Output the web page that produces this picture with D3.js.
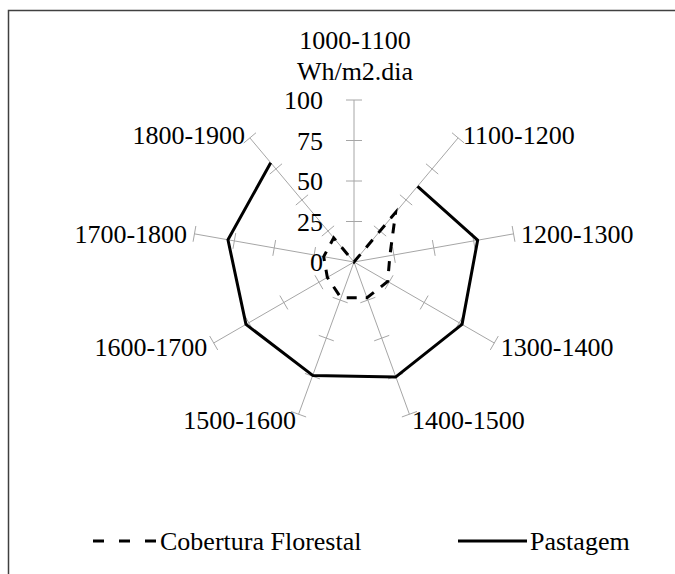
<!DOCTYPE html>
<html>
<head>
<meta charset="utf-8">
<script src="https://cdn.jsdelivr.net/npm/d3@7"></script>
<style>
  body { margin: 0; background: #fff; }
</style>
</head>
<body>
<svg id="chart" width="675" height="574"></svg>
<script>
// ---DATA---//
var categories = ["1000-1100", "1100-1200", "1200-1300", "1300-1400", "1400-1500",
                  "1500-1600", "1600-1700", "1700-1800", "1800-1900"];
var unitLabel = "Wh/m2.dia";
var coberturaValues = [0, 40, 22.5, 24, 23.5, 23.5, 19, 19, 19.5];
var pastagemValues = [null, 61, 77.5, 77, 75.5, 74.5, 77, 79, 80];
var tickValues = [0, 25, 50, 75, 100];
var seriesNames = ["Cobertura Florestal", "Pastagem"];

// ---LAYOUT---//
var cx = 354, cy = 262;
var fontFamily = "'Liberation Serif', 'Times New Roman', Tinos, 'DejaVu Serif', serif";
var svg = d3.select("#chart")
  .attr("font-family", fontFamily)
  .attr("font-size", 26);

// outer frame (runs off the right / bottom edge)
svg.append("rect")
  .attr("x", 8.5).attr("y", 10.5)
  .attr("width", 700).attr("height", 600)
  .attr("fill", "none").attr("stroke", "#404040").attr("stroke-width", 1.5);

var g = svg.append("g").attr("transform", "translate(" + cx + "," + cy + ")");

var r = d3.scaleLinear().domain([0, 100]).range([0, 162]);
var angle = d3.scalePoint().domain(categories).range([0, 2 * Math.PI * 8 / 9]);

function px(cat, v) { return Math.sin(angle(cat)) * r(v); }
function py(cat, v) { return -Math.cos(angle(cat)) * r(v); }

// ---SPOKES + TICKS---//
var spokes = g.selectAll(".spoke").data(categories).enter().append("g").attr("class", "spoke");

spokes.append("line")
  .attr("x1", 0).attr("y1", 0)
  .attr("x2", function(d) { return px(d, 100); })
  .attr("y2", function(d) { return py(d, 100); })
  .attr("stroke", "#a6a6a6").attr("stroke-width", 1);

spokes.each(function(cat) {
  var a = angle(cat);
  var nx = Math.cos(a), ny = Math.sin(a); // perpendicular
  d3.select(this).selectAll(".tick").data(tickValues.slice(1)).enter().append("line")
    .attr("x1", function(v) { return px(cat, v) - nx * 8; })
    .attr("y1", function(v) { return py(cat, v) - ny * 8; })
    .attr("x2", function(v) { return px(cat, v) + nx * 8; })
    .attr("y2", function(v) { return py(cat, v) + ny * 8; })
    .attr("stroke", "#a6a6a6").attr("stroke-width", 1);
});

// value labels on the first spoke
g.selectAll(".tickLabel").data(tickValues).enter().append("text")
  .attr("x", -31)
  .attr("y", function(v) { return -r(v); })
  .attr("dy", "0.35em")
  .attr("text-anchor", "end")
  .text(function(v) { return v; });

// ---SERIES---//
var radial = d3.lineRadial()
  .angle(function(d, i) { return angle(categories[i]); })
  .radius(function(d) { return r(d); })
  .defined(function(d) { return d != null; });

g.append("path")
  .datum(coberturaValues)
  .attr("d", radial.curve(d3.curveLinearClosed))
  .attr("fill", "none").attr("stroke", "#000").attr("stroke-width", 3)
  .attr("stroke-dasharray", "10,9");

g.append("path")
  .datum(pastagemValues)
  .attr("d", radial.curve(d3.curveLinear))
  .attr("fill", "none").attr("stroke", "#000").attr("stroke-width", 3)
  .attr("stroke-linejoin", "round");

// ---CATEGORY LABELS---//
g.selectAll(".catLabel").data(categories.slice(1)).enter().append("text")
  .attr("x", function(d) { return px(d, 100) + 7.5 * Math.sin(angle(d)); })
  .attr("y", function(d) { return py(d, 100) - 5 * Math.cos(angle(d)) + 1; })
  .attr("dy", "0.35em")
  .attr("text-anchor", function(d) { return Math.sin(angle(d)) > 0 ? "start" : "end"; })
  .text(function(d) { return d; });

g.append("text").attr("x", 1).attr("y", -222).attr("dy", "0.35em")
  .attr("text-anchor", "middle").text(categories[0]);
g.append("text").attr("x", 1).attr("y", -191).attr("dy", "0.35em")
  .attr("text-anchor", "middle").text(unitLabel);

// ---LEGEND---//
var legend = svg.append("g").attr("class", "legend");
var legendItems = [
  { name: seriesNames[0], x1: 93, x2: 157, tx: 160, dash: "11,15" },
  { name: seriesNames[1], x1: 458, x2: 527, tx: 530, dash: null }
];
legendItems.forEach(function(item) {
  legend.append("line")
    .attr("x1", item.x1).attr("x2", item.x2)
    .attr("y1", 541).attr("y2", 541)
    .attr("stroke", "#000").attr("stroke-width", 3)
    .attr("stroke-dasharray", item.dash);
  legend.append("text")
    .attr("x", item.tx).attr("y", 541).attr("dy", "0.35em")
    .text(item.name);
});
</script>
</body>
</html>
